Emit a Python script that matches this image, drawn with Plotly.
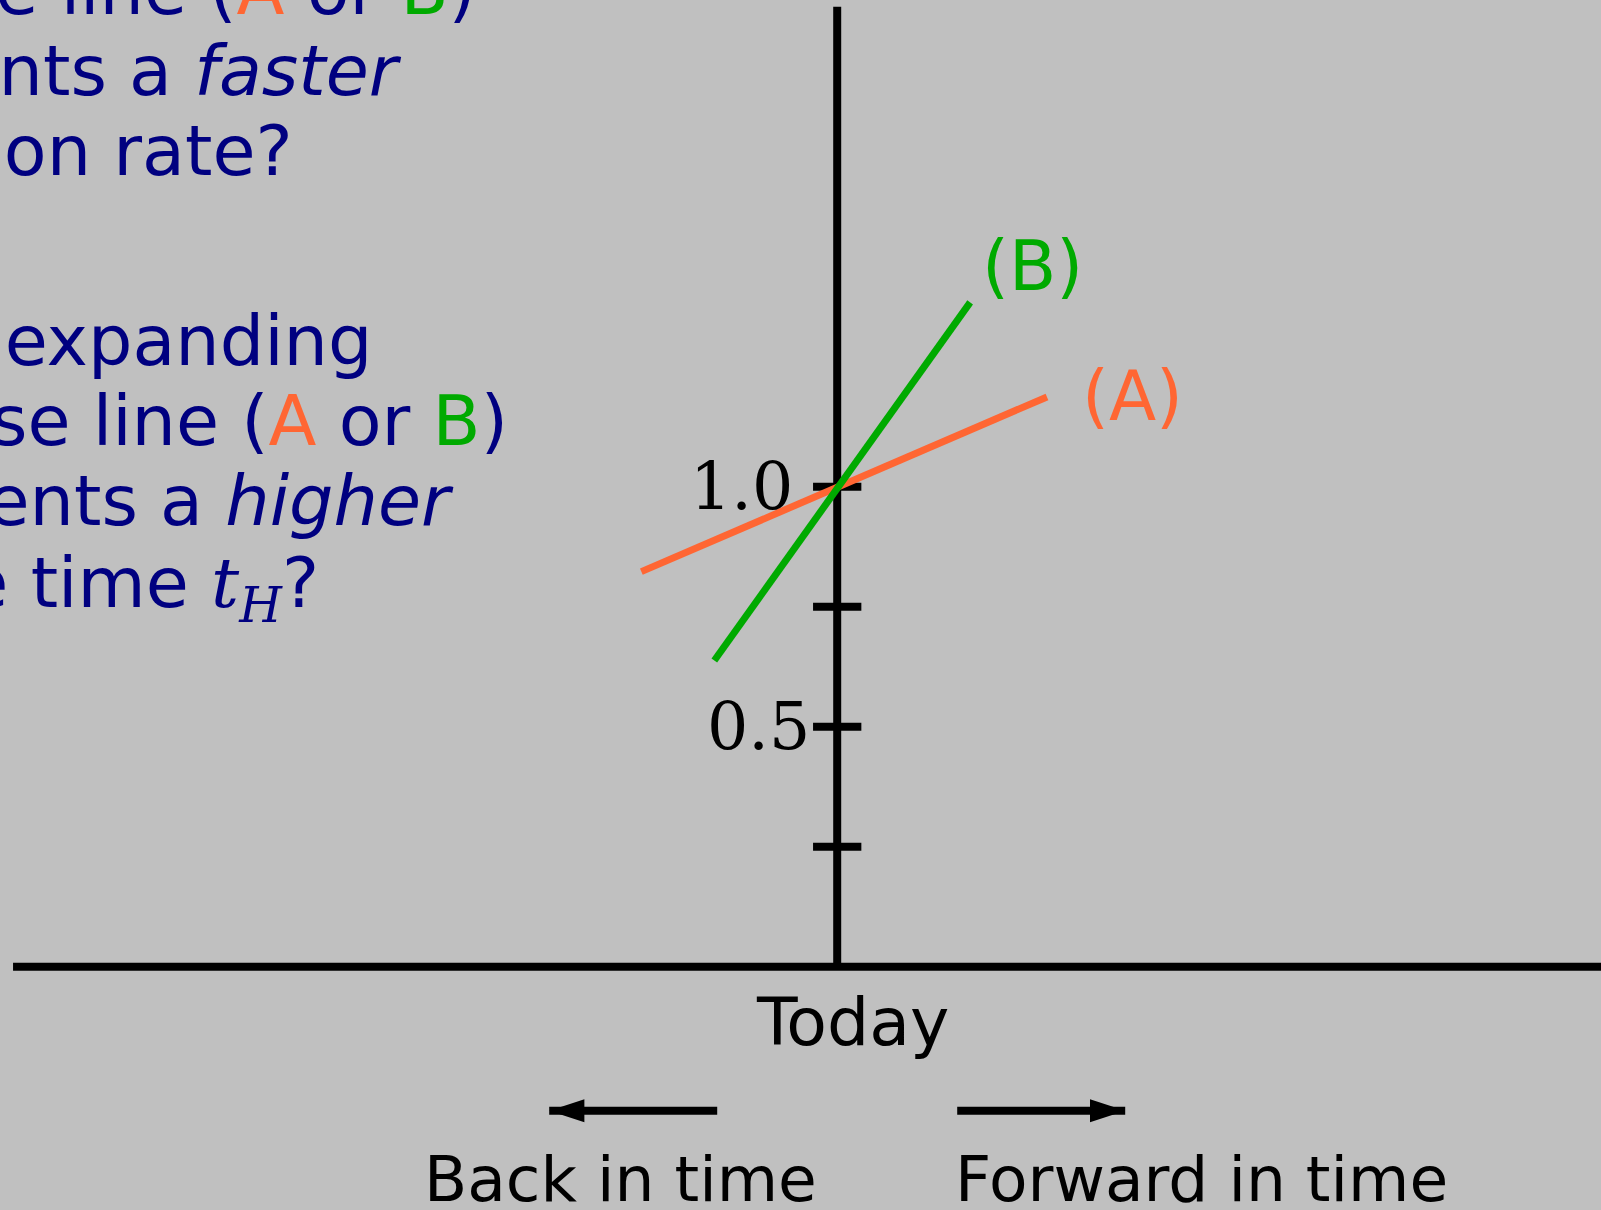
import plotly.graph_objects as go

# ---------------- data ----------------
line_a_x = [-0.408, 0.437]
line_a_y = [0.823, 1.187]
line_b_x = [-0.256, 0.277]
line_b_y = [0.638, 1.384]

tick_vals = [0.25, 0.5, 0.75, 1.0]
tick_labels = ["0.5", "1.0"]
tick_label_vals = [0.5, 1.0]

x_axis_span = [-1.717, 1.70]
y_axis_span = [0.0, 2.0]

back_arrow_x = [-0.25, -0.60]
fwd_arrow_x = [0.25, 0.60]
arrow_level = [-0.30, -0.30]

question_lines = [
    "Which slope line (<span style='color:#ff6633'>A</span> or <span style='color:#00aa00'>B</span>)",
    "represents a <i>faster</i>",
    "expansion rate?",
    "In an expanding",
    "universe, whose line (<span style='color:#ff6633'>A</span> or <span style='color:#00aa00'>B</span>)",
    "represents a <i>higher</i>",
    "Hubble time <span style=\"font-family:DejaVu Serif\"><i>t<sub>H</sub></i></span>?",
]

# ---------------- layout helpers (pixel geometry) ----------------
W, H = 1601, 1210
X0, Y0, S = 837.2, 966.7, 480.0  # axis origin in px, px per unit


def px2x(px):
    return (px - X0) / S


def px2y(py):
    return (Y0 - py) / S


BLACK = "#000000"
ORANGE = "#ff6633"
GREEN = "#00aa00"
NAVY = "#000080"
BG = "#c0c0c0"

fig = go.Figure()

# axes
fig.add_trace(go.Scatter(x=x_axis_span, y=[0, 0], mode="lines",
                         line=dict(color=BLACK, width=8), hoverinfo="skip"))
fig.add_trace(go.Scatter(x=[0, 0], y=y_axis_span, mode="lines",
                         line=dict(color=BLACK, width=8), hoverinfo="skip"))
# ticks
fig.add_trace(go.Scatter(x=[0] * len(tick_vals), y=tick_vals, mode="markers",
                         marker=dict(symbol="line-ew", size=34.5,
                                     line=dict(color=BLACK, width=8)),
                         hoverinfo="skip"))

# lines A and B
fig.add_trace(go.Scatter(x=line_a_x, y=line_a_y, mode="lines",
                         line=dict(color=ORANGE, width=7), name="A"))
fig.add_trace(go.Scatter(x=line_b_x, y=line_b_y, mode="lines",
                         line=dict(color=GREEN, width=7), name="B"))

# arrows: shaft + head
for ax_, ang in ((back_arrow_x, -90), (fwd_arrow_x, 90)):
    fig.add_trace(go.Scatter(x=ax_, y=arrow_level, mode="lines",
                             line=dict(color=BLACK, width=8, backoff=20),
                             hoverinfo="skip"))
    fig.add_trace(go.Scatter(x=[ax_[-1]], y=[arrow_level[-1]], mode="markers",
                             marker=dict(symbol="arrow", size=37, angle=ang,
                                         angleref="up", color=BLACK, opacity=1,
                                         line=dict(width=0, color=BLACK)),
                             hoverinfo="skip"))

annotations = []
# tick labels
tick_label_right_px = {"0.5": 811.6, "1.0": 794.5}
for lab, v in zip(tick_labels, tick_label_vals):
    annotations.append(dict(x=px2x(tick_label_right_px[lab]), y=v, xref="x", yref="y",
                            text=lab, showarrow=False, xanchor="right", yanchor="middle",
                            font=dict(family="DejaVu Serif", size=65, color=BLACK)))

# line labels
annotations.append(dict(x=px2x(980), y=px2y(290 - 23.9), xref="x", yref="y",
                        text="(B)", showarrow=False, xanchor="left", yanchor="middle",
                        font=dict(family="DejaVu Sans", size=69, color=GREEN)))
annotations.append(dict(x=px2x(1080), y=px2y(420 - 23.9), xref="x", yref="y",
                        text="(A)", showarrow=False, xanchor="left", yanchor="middle",
                        font=dict(family="DejaVu Sans", size=69, color=ORANGE)))

# bottom labels
annotations.append(dict(x=px2x(852.5), y=px2y(1045.5 - 0.346 * 66.5), xref="x", yref="y",
                        text="Today", showarrow=False, xanchor="center", yanchor="middle",
                        font=dict(family="DejaVu Sans", size=66.5, color=BLACK)))
annotations.append(dict(x=px2x(422), y=px2y(1201.7 - 21.8), xref="x", yref="y",
                        text="Back in time", showarrow=False, xanchor="left", yanchor="middle",
                        font=dict(family="DejaVu Sans", size=63, color=BLACK)))
annotations.append(dict(x=px2x(953), y=px2y(1201.7 - 21.8), xref="x", yref="y",
                        text="Forward in time", showarrow=False, xanchor="left", yanchor="middle",
                        font=dict(family="DejaVu Sans", size=63, color=BLACK)))

# question text (clipped at left edge)
q_right_px = [478, 404, 295, 373.5, 510, 456, 321]
q_baseline_px = [14, 95, 175, 365, 445, 525, 607]
QF = 70
for txt, rpx, bpx in zip(question_lines, q_right_px, q_baseline_px):
    top_px = bpx - 0.928 * QF - 2
    annotations.append(dict(x=rpx / W, y=1 - top_px / H, xref="paper", yref="paper",
                            text=txt, showarrow=False, xanchor="right", yanchor="top",
                            align="right",
                            font=dict(family="DejaVu Sans", size=QF, color=NAVY)))

fig.update_layout(
    width=W, height=H,
    margin=dict(l=0, r=0, t=0, b=0, pad=0),
    paper_bgcolor=BG, plot_bgcolor=BG,
    showlegend=False,
    xaxis=dict(range=[px2x(0), px2x(W)], visible=False, fixedrange=True),
    yaxis=dict(range=[px2y(H), px2y(0)], visible=False, fixedrange=True),
    annotations=annotations,
)

fig.write_html("out.html", config={"displayModeBar": False},
               post_script="document.body.style.margin='0';document.body.style.overflow='hidden';")
